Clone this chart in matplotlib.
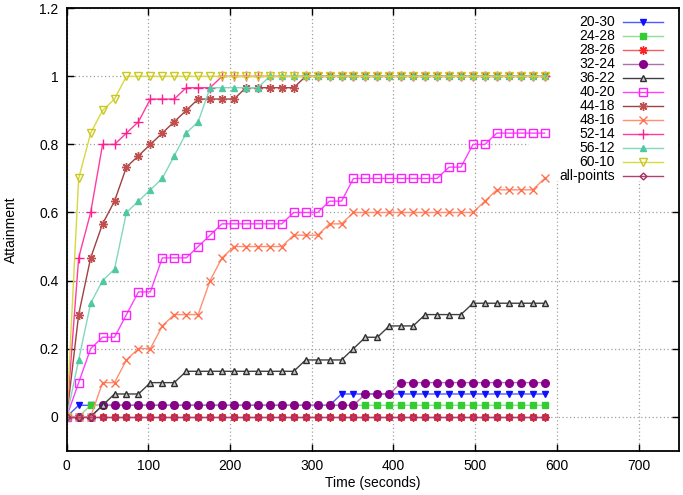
import matplotlib
matplotlib.use("Agg")
import matplotlib.pyplot as plt
from matplotlib.patches import Rectangle

plt.rcParams['font.family'] = ['Liberation Sans', 'DejaVu Sans']
plt.rcParams['font.size'] = 10

# sample times (seconds)
times = [0, 14.6, 29.3, 43.9, 58.5, 73.1, 87.8, 102.4, 117, 131.6,
         146.3, 160.9, 175.5, 190.1, 204.8, 219.4, 234, 248.6, 263.3, 277.9,
         292.5, 307.1, 321.8, 336.4, 351, 365.6, 380.3, 394.9, 409.5, 424.1,
         438.8, 453.4, 468, 482.6, 497.3, 511.9, 526.5, 541.1, 555.8, 570.4,
         585]

# attained runs out of 30, per configuration
s20_30 = [0, 1, 1, 1, 1, 1, 1, 1, 1, 1, 1, 1, 1, 1, 1, 1, 1, 1, 1, 1,
          1, 1, 1, 2, 2, 2, 2, 2, 2, 2, 2, 2, 2, 2, 2, 2, 2, 2, 2, 2, 2]
s24_28 = [0, 0, 1, 1, 1, 1, 1, 1, 1, 1, 1, 1, 1, 1, 1, 1, 1, 1, 1, 1,
          1, 1, 1, 1, 1, 1, 1, 1, 1, 1, 1, 1, 1, 1, 1, 1, 1, 1, 1, 1, 1]
s28_26 = [0, 0, 0, 0, 0, 0, 0, 0, 0, 0, 0, 0, 0, 0, 0, 0, 0, 0, 0, 0,
          0, 0, 0, 0, 0, 0, 0, 0, 0, 0, 0, 0, 0, 0, 0, 0, 0, 0, 0, 0, 0]
s32_24 = [0, 0, 0, 1, 1, 1, 1, 1, 1, 1, 1, 1, 1, 1, 1, 1, 1, 1, 1, 1,
          1, 1, 1, 1, 1, 2, 2, 2, 3, 3, 3, 3, 3, 3, 3, 3, 3, 3, 3, 3, 3]
s36_22 = [0, 0, 0, 1, 2, 2, 2, 3, 3, 3, 4, 4, 4, 4, 4, 4, 4, 4, 4, 4,
          5, 5, 5, 5, 6, 7, 7, 8, 8, 8, 9, 9, 9, 9, 10, 10, 10, 10, 10, 10, 10]
s40_20 = [0, 3, 6, 7, 7, 9, 11, 11, 14, 14, 14, 15, 16, 17, 17, 17, 17, 17, 17, 18,
          18, 18, 19, 19, 21, 21, 21, 21, 21, 21, 21, 21, 22, 22, 24, 24, 25, 25, 25, 25, 25]
s44_18 = [0, 9, 14, 17, 19, 22, 23, 24, 25, 26, 27, 28, 28, 28, 28, 29, 29, 29, 29, 29,
          30, 30, 30, 30, 30, 30, 30, 30, 30, 30, 30, 30, 30, 30, 30, 30, 30, 30, 30, 30, 30]
s48_16 = [0, 0, 0, 3, 3, 5, 6, 6, 8, 9, 9, 9, 12, 14, 15, 15, 15, 15, 15, 16,
          16, 16, 17, 17, 18, 18, 18, 18, 18, 18, 18, 18, 18, 18, 18, 19, 20, 20, 20, 20, 21]
s52_14 = [0, 14, 18, 24, 24, 25, 26, 28, 28, 28, 29, 29, 29, 30, 30, 30, 30, 30, 30, 30,
          30, 30, 30, 30, 30, 30, 30, 30, 30, 30, 30, 30, 30, 30, 30, 30, 30, 30, 30, 30, 30]
s56_12 = [0, 5, 10, 12, 13, 18, 19, 20, 21, 23, 25, 26, 29, 29, 29, 29, 29, 30, 30, 30,
          30, 30, 30, 30, 30, 30, 30, 30, 30, 30, 30, 30, 30, 30, 30, 30, 30, 30, 30, 30, 30]
s60_10 = [0, 21, 25, 27, 28, 30, 30, 30, 30, 30, 30, 30, 30, 30, 30, 30, 30, 30, 30, 30,
          30, 30, 30, 30, 30, 30, 30, 30, 30, 30, 30, 30, 30, 30, 30, 30, 30, 30, 30, 30, 30]
s_all = [0, 0, 0, 0, 0, 0, 0, 0, 0, 0, 0, 0, 0, 0, 0, 0, 0, 0, 0, 0,
         0, 0, 0, 0, 0, 0, 0, 0, 0, 0, 0, 0, 0, 0, 0, 0, 0, 0, 0, 0, 0]
n_runs = 30.0

labels = ["20-30", "24-28", "28-26", "32-24", "36-22", "40-20",
          "44-18", "48-16", "52-14", "56-12", "60-10", "all-points"]
series = [s20_30, s24_28, s28_26, s32_24, s36_22, s40_20,
          s44_18, s48_16, s52_14, s56_12, s60_10, s_all]

star = (8, 2, 0)
# line colour, marker, face colour, edge colour, size
styles = [
    ("#4a5cff", "v", "#1010ff", "#1010ff", 4.5),
    ("#8fdf8f", "s", "#33cc33", "#33cc33", 5),
    ("#f06060", star, "#ff2020", "#ff2020", 6),
    ("#b070b0", "o", "#880088", "#880088", 5.5),
    ("#404040", "^", "#c8c8c8", "#303030", 5),
    ("#ff40ff", "s", "none", "#ff20ff", 6),
    ("#a04040", star, "#8b1010", "#c05050", 6.5),
    ("#ff9070", "x", "none", "#ff7050", 5.5),
    ("#ff3ca0", "+", "none", "#ff2090", 6.5),
    ("#80d8c0", "^", "#50c8a0", "#50c8a0", 5),
    ("#d8d840", "v", "none", "#c8c820", 5.5),
    ("#b04070", "D", "none", "#a03060", 3.5),
]

fig = plt.figure(figsize=(6.83, 4.95), dpi=100)
ax = fig.add_axes([0.0977, 0.0895, 0.897, 0.8937])

for vals, lab, (lc, mk, fc, ec, ms) in zip(series, labels, styles):
    ys = [v / n_runs for v in vals]
    ax.plot(times, ys, color=lc, lw=1.0, marker=mk, ms=ms,
            mfc=fc, mec=ec, mew=1.0, zorder=2)

ax.set_xlim(0, 750)
ax.set_ylim(-0.1, 1.2)
ax.set_xticks([0, 100, 200, 300, 400, 500, 600, 700])
ax.set_yticks([0, 0.2, 0.4, 0.6, 0.8, 1.0, 1.2])
ax.set_yticklabels(["0", "0.2", "0.4", "0.6", "0.8", "1", "1.2"])
ax.tick_params(direction="in", length=5, width=1, top=True, right=True, pad=6)
for sp in ax.spines.values():
    sp.set_linewidth(1.3)

ax.set_axisbelow(True)
ax.grid(True, color="#a0a0a0", linestyle=(0, (1, 2)), linewidth=0.9)

ax.set_xlabel("Time (seconds)", labelpad=2)
ax.set_ylabel("Attainment", labelpad=15)

# opaque key background (covers grid, not data)
ax.add_patch(Rectangle((0.755, 0.61), 0.245, 0.39, transform=ax.transAxes,
                       facecolor="white", edgecolor="none", zorder=1))

# key: right-justified text, sample to the right
for k, (lab, (lc, mk, fc, ec, ms)) in enumerate(zip(labels, styles)):
    yk = 0.970 - 0.03165 * k
    ax.text(0.895, yk, lab, transform=ax.transAxes, ha="right", va="center",
            fontsize=10, zorder=6)
    ax.plot([0.908, 0.974], [yk, yk], transform=ax.transAxes, color=lc,
            lw=1.0, zorder=6, clip_on=False)
    ax.plot([0.941], [yk], transform=ax.transAxes, marker=mk, ms=ms,
            mfc=fc, mec=ec, mew=1.0, zorder=6, clip_on=False)

fig.savefig("out.png", dpi=100)
